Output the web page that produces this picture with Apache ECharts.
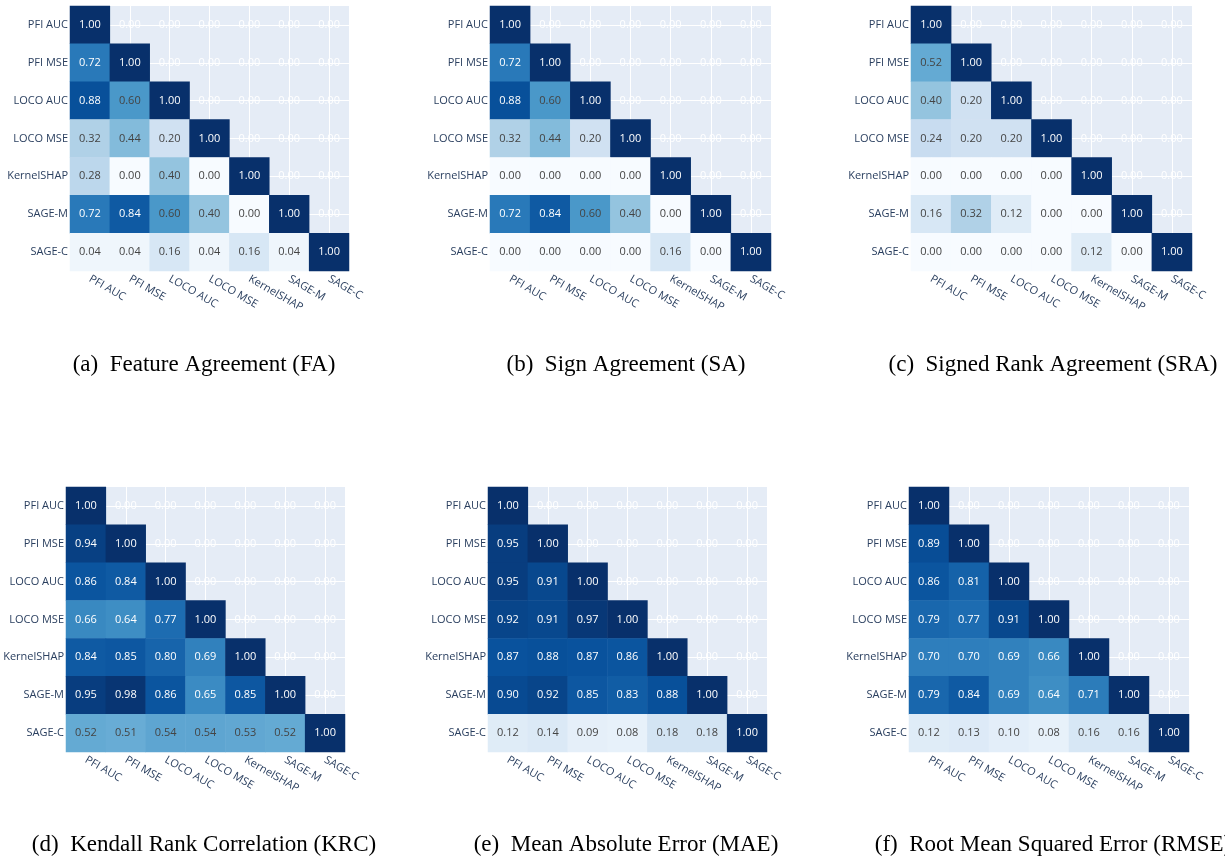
<!DOCTYPE html>
<html>
<head>
<meta charset="utf-8">
<script src="https://cdn.jsdelivr.net/npm/echarts@6/dist/echarts.min.js"></script>
<style>
  html, body { margin: 0; padding: 0; background: #fff; }
  #chart { width: 1225px; height: 859px; }
</style>
</head>
<body>
<div id="chart"></div>
<script>
// explainers compared pairwise
var methods = ['PFI AUC', 'PFI MSE', 'LOCO AUC', 'LOCO MSE', 'KernelSHAP', 'SAGE-M', 'SAGE-C'];

// lower triangle (incl. diagonal), one row per method
var faRows = [
  [1.00],
  [0.72, 1.00],
  [0.88, 0.60, 1.00],
  [0.32, 0.44, 0.20, 1.00],
  [0.28, 0.00, 0.40, 0.00, 1.00],
  [0.72, 0.84, 0.60, 0.40, 0.00, 1.00],
  [0.04, 0.04, 0.16, 0.04, 0.16, 0.04, 1.00]
];
var saRows = [
  [1.00],
  [0.72, 1.00],
  [0.88, 0.60, 1.00],
  [0.32, 0.44, 0.20, 1.00],
  [0.00, 0.00, 0.00, 0.00, 1.00],
  [0.72, 0.84, 0.60, 0.40, 0.00, 1.00],
  [0.00, 0.00, 0.00, 0.00, 0.16, 0.00, 1.00]
];
var sraRows = [
  [1.00],
  [0.52, 1.00],
  [0.40, 0.20, 1.00],
  [0.24, 0.20, 0.20, 1.00],
  [0.00, 0.00, 0.00, 0.00, 1.00],
  [0.16, 0.32, 0.12, 0.00, 0.00, 1.00],
  [0.00, 0.00, 0.00, 0.00, 0.12, 0.00, 1.00]
];
var krcRows = [
  [1.00],
  [0.94, 1.00],
  [0.86, 0.84, 1.00],
  [0.66, 0.64, 0.77, 1.00],
  [0.84, 0.85, 0.80, 0.69, 1.00],
  [0.95, 0.98, 0.86, 0.65, 0.85, 1.00],
  [0.52, 0.51, 0.54, 0.54, 0.53, 0.52, 1.00]
];
var maeRows = [
  [1.00],
  [0.95, 1.00],
  [0.95, 0.91, 1.00],
  [0.92, 0.91, 0.97, 1.00],
  [0.87, 0.88, 0.87, 0.86, 1.00],
  [0.90, 0.92, 0.85, 0.83, 0.88, 1.00],
  [0.12, 0.14, 0.09, 0.08, 0.18, 0.18, 1.00]
];
var rmseRows = [
  [1.00],
  [0.89, 1.00],
  [0.86, 0.81, 1.00],
  [0.79, 0.77, 0.91, 1.00],
  [0.70, 0.70, 0.69, 0.66, 1.00],
  [0.79, 0.84, 0.69, 0.64, 0.71, 1.00],
  [0.12, 0.13, 0.10, 0.08, 0.16, 0.16, 1.00]
];

var captions = [
  '(a)\u2002Feature Agreement (FA)',
  '(b)\u2002Sign Agreement (SA)',
  '(c)\u2002Signed Rank Agreement (SRA)',
  '(d)\u2002Kendall Rank Correlation (KRC)',
  '(e)\u2002Mean Absolute Error (MAE)',
  '(f)\u2002Root Mean Squared Error (RMSE)'
];

var panels = [faRows, saRows, sraRows, krcRows, maeRows, rmseRows];

// plotly "Blues"
var blues = ['#f7fbff', '#deebf7', '#c6dbef', '#9ecae1', '#6baed6',
             '#4292c6', '#2171b5', '#08519c', '#08306b'];

// plot area boxes [left, top, width, height] and caption centres
var boxes = [
  [70, 6, 279, 265], [490, 6, 281, 265], [911, 6, 281, 265],
  [66, 487, 279, 265], [488, 487, 279, 265], [909, 487, 280, 265]
];
var capX = [204, 626, 1053, 204, 626, 1053];
var capY = [365, 365, 365, 845, 845, 845];

var font = '"Open Sans", "DejaVu Sans", sans-serif';

var grids = [], xAxes = [], yAxes = [], series = [], graphics = [];
var lowerIdx = [];

panels.forEach(function (rows, p) {
  var b = boxes[p];
  grids.push({
    left: b[0], top: b[1], width: b[2], height: b[3],
    show: true, backgroundColor: '#E5ECF6', borderWidth: 0
  });
  xAxes.push({
    type: 'category', gridIndex: p, data: methods,
    axisLine: { show: false }, axisTick: { show: false },
    axisLabel: { rotate: -30, margin: 7, color: '#2a3f5f', fontSize: 11, fontFamily: font },
    splitLine: { show: true, alignWithLabel: true, lineStyle: { color: '#fff', width: 1 } }
  });
  yAxes.push({
    type: 'category', gridIndex: p, data: methods, inverse: true,
    axisLine: { show: false }, axisTick: { show: false },
    axisLabel: { margin: 2, color: '#2a3f5f', fontSize: 11, fontFamily: font },
    splitLine: { show: true, alignWithLabel: true, lineStyle: { color: '#fff', width: 1 } }
  });

  var lower = [], upper = [];
  rows.forEach(function (row, i) {
    row.forEach(function (v, j) {
      lower.push({
        value: [j, i, v],
        label: { color: v >= 0.62 ? '#fff' : '#444' }
      });
    });
    for (var j = i + 1; j < methods.length; j++) {
      upper.push([j, i, 0]);
    }
  });

  var lbl = {
    show: true, fontSize: 11, fontFamily: font,
    formatter: function (d) { return d.value[2].toFixed(2); }
  };

  lowerIdx.push(series.length);
  series.push({
    type: 'heatmap', xAxisIndex: p, yAxisIndex: p, data: lower,
    label: lbl, emphasis: { disabled: true }
  });
  series.push({
    type: 'heatmap', xAxisIndex: p, yAxisIndex: p, data: upper,
    itemStyle: { color: 'rgba(0,0,0,0)' },
    label: Object.assign({}, lbl, { color: '#fff' }),
    emphasis: { disabled: true }
  });

  graphics.push({
    type: 'text', x: capX[p], y: capY[p], silent: true,
    style: {
      text: captions[p], fill: '#000',
      font: '23px "Liberation Serif", "Times New Roman", serif',
      align: 'center', verticalAlign: 'middle'
    }
  });
});

var chart = echarts.init(document.getElementById('chart'));
chart.setOption({
  animation: false,
  backgroundColor: '#fff',
  grid: grids,
  xAxis: xAxes,
  yAxis: yAxes,
  visualMap: {
    show: false, min: 0, max: 1, seriesIndex: lowerIdx,
    inRange: { color: blues }
  },
  graphic: graphics,
  series: series
});
</script>
</body>
</html>
